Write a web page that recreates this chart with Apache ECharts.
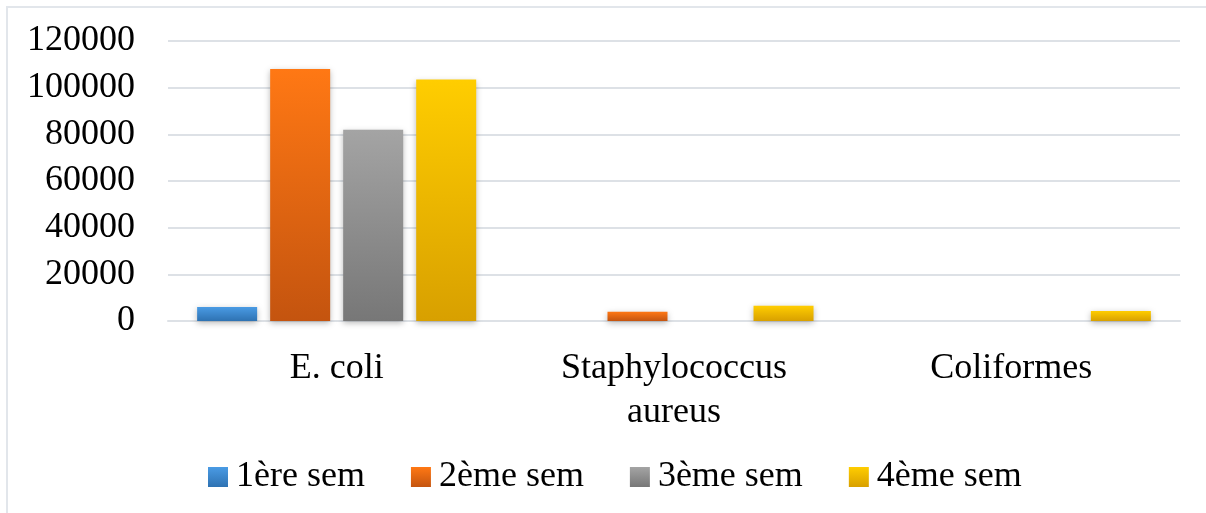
<!DOCTYPE html>
<html>
<head>
<meta charset="utf-8">
<script src="https://cdn.jsdelivr.net/npm/echarts@6/dist/echarts.min.js"></script>
<style>
  html, body { margin: 0; padding: 0; background: #fff; overflow: hidden; }
  #frame { position: absolute; left: 6px; top: 6px; width: 1220px; height: 530px; border: 2px solid #e2e6eb; box-sizing: border-box; }
  #chart { position: absolute; left: 0; top: 0; width: 1206px; height: 513px; }
</style>
</head>
<body>
<div id="frame"></div>
<div id="chart"></div>
<script>
// Bacteria counts per week
const categories = ['E. coli', 'Staphylococcus\naureus', 'Coliformes'];
const weekNames = ['1ère sem', '2ème sem', '3ème sem', '4ème sem'];
const week1 = [6000, 0, 0];
const week2 = [108000, 4000, 0];
const week3 = [82000, 0, 0];
const week4 = [103500, 6500, 4300];
const yTicks = [0, 20000, 40000, 60000, 80000, 100000, 120000];

const FONT = "'Liberation Serif', 'Times New Roman', serif";
const gradients = [
  ['#4a9be4', '#2e72b2'],
  ['#ff7814', '#c4540f'],
  ['#a4a4a4', '#777777'],
  ['#ffcd00', '#d8a000']
];
const weekValues = [week1, week2, week3, week4];

function grad(pair) {
  return new echarts.graphic.LinearGradient(0, 0, 0, 1, [
    { offset: 0, color: pair[0] },
    { offset: 1, color: pair[1] }
  ]);
}

const chart = echarts.init(document.getElementById('chart'), null, { renderer: 'canvas' });

chart.setOption({
  animation: false,
  grid: { left: 168, right: 26, top: 41, bottom: 192, containLabel: false },
  legend: {
    bottom: 13,
    left: 203,
    itemWidth: 20,
    itemHeight: 20,
    itemGap: 46,
    icon: 'rect',
    textStyle: { fontFamily: FONT, fontSize: 36, color: '#000', padding: [0, 0, 0, 3] },
    itemStyle: { shadowBlur: 0, shadowColor: 'transparent' },
    data: weekNames
  },
  xAxis: {
    type: 'category',
    data: categories,
    axisTick: { show: false },
    axisLine: { lineStyle: { color: '#dde1e6', width: 2 } },
    axisLabel: {
      fontFamily: FONT, fontSize: 36, color: '#000',
      margin: 26, lineHeight: 44, interval: 0
    }
  },
  yAxis: {
    type: 'value',
    min: yTicks[0],
    max: yTicks[yTicks.length - 1],
    interval: yTicks[1] - yTicks[0],
    axisLine: { show: false },
    axisTick: { show: false },
    splitLine: { lineStyle: { color: '#dde1e6', width: 2 } },
    axisLabel: {
      fontFamily: FONT, fontSize: 36, color: '#000', margin: 33,
      formatter: (v) => String(v)
    }
  },
  series: weekNames.map((name, i) => ({
    name: name,
    type: 'bar',
    data: weekValues[i],
    barWidth: 60,
    barGap: '21.7%',
    itemStyle: {
      color: grad(gradients[i]),
      shadowBlur: 6,
      shadowOffsetY: 2,
      shadowColor: 'rgba(0,0,0,0.28)'
    }
  }))
});
</script>
</body>
</html>
